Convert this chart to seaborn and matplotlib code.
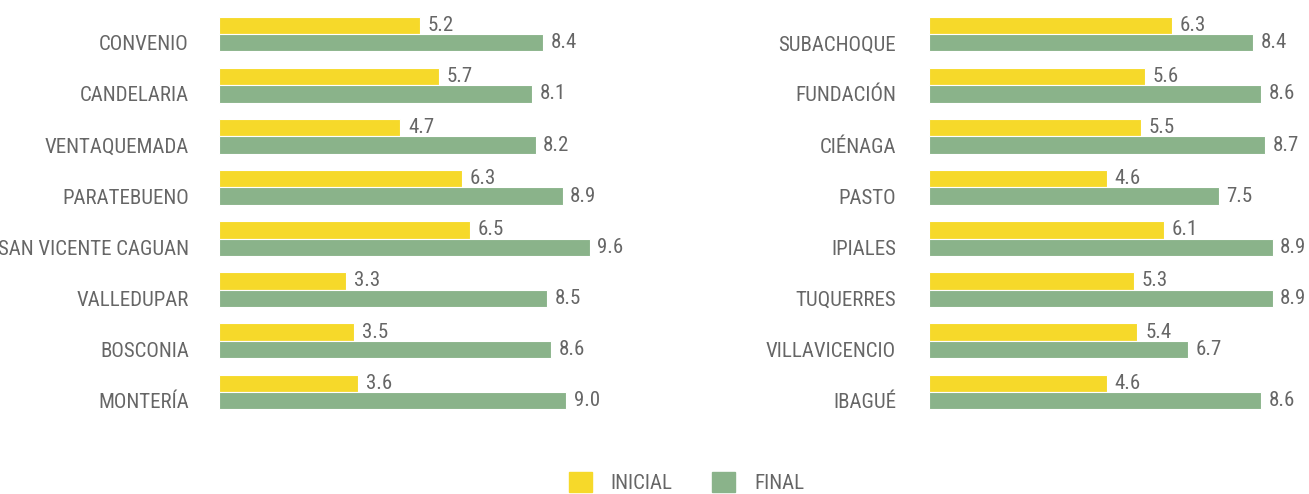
import pandas as pd
import matplotlib.pyplot as plt
import seaborn as sns

# Datos de cada panel
municipios_izq = ['CONVENIO', 'CANDELARIA', 'VENTAQUEMADA', 'PARATEBUENO',
                  'SAN VICENTE CAGUAN', 'VALLEDUPAR', 'BOSCONIA', 'MONTERÍA']
inicial_izq = [5.2, 5.7, 4.7, 6.3, 6.5, 3.3, 3.5, 3.6]
final_izq = [8.4, 8.1, 8.2, 8.9, 9.6, 8.5, 8.6, 9.0]

municipios_der = ['SUBACHOQUE', 'FUNDACIÓN', 'CIÉNAGA', 'PASTO',
                  'IPIALES', 'TUQUERRES', 'VILLAVICENCIO', 'IBAGUÉ']
inicial_der = [6.3, 5.6, 5.5, 4.6, 6.1, 5.3, 5.4, 4.6]
final_der = [8.4, 8.6, 8.7, 7.5, 8.9, 8.9, 6.7, 8.6]

series = ['INICIAL', 'FINAL']
colores = {'INICIAL': '#F6D92A', 'FINAL': '#8AB38A'}
gris = '#666666'

sns.set_style('white')
plt.rcParams['font.family'] = ['Roboto Condensed', 'Archivo Narrow', 'DejaVu Sans']


def tabla(municipios, inicial, final):
    df = pd.DataFrame({'municipio': municipios, 'INICIAL': inicial, 'FINAL': final})
    return df.melt(id_vars='municipio', var_name='serie', value_name='valor')


fig = plt.figure(figsize=(13.09, 4.94), dpi=100)
ax1 = fig.add_axes([219 / 1309, 1 - 417.5 / 494, 386 / 1309, 409 / 494])
ax2 = fig.add_axes([929 / 1309, 1 - 417.5 / 494, 380 / 1309, 409 / 494])

paneles = [(ax1, municipios_izq, inicial_izq, final_izq, 10, 21.6),
           (ax2, municipios_der, inicial_der, final_der, 380 / 38.6, 23.8)]

for ax, municipios, ini, fin, xmax, sep in paneles:
    df = tabla(municipios, ini, fin)
    sns.barplot(data=df, y='municipio', x='valor', hue='serie', hue_order=series,
                palette=colores, saturation=1, width=0.68, edgecolor='white',
                linewidth=0.8, legend=False, ax=ax)
    for cont in ax.containers:
        ax.bar_label(cont, fmt='%.1f', padding=5.5, fontsize=15, color=gris)
    ax.set_xlim(0, xmax)
    ax.set_ylim(7.5, -0.5)
    ax.set_yticks([i + 0.17 for i in range(len(municipios))])
    ax.set_yticklabels(municipios, fontsize=15, color=gris)
    ax.tick_params(axis='y', length=0, pad=sep)
    ax.set_xticks([])
    ax.set_xlabel('')
    ax.set_ylabel('')
    sns.despine(ax=ax, left=True, bottom=True)

handles = [plt.Rectangle((0, 0), 1, 1, color=colores[s]) for s in series]
fig.legend(handles, series, loc='upper center', bbox_to_anchor=(0.5245, 0.083),
           ncol=2, frameon=False, fontsize=15, labelcolor=gris,
           handlelength=1.1, handleheight=1.1, handletextpad=0.9, columnspacing=1.9)

fig.savefig('out.png', dpi=100)
